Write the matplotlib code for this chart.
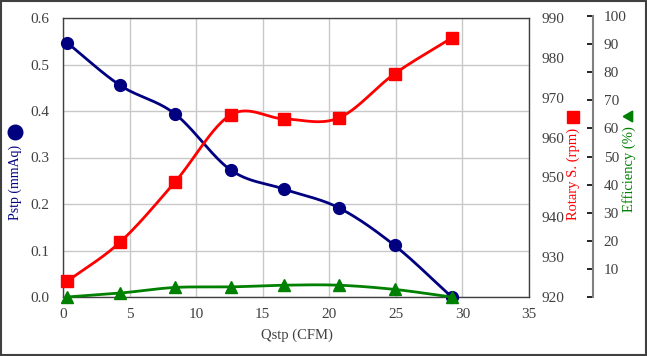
import numpy as np
import matplotlib
matplotlib.use("Agg")
import matplotlib.pyplot as plt
from matplotlib.lines import Line2D
from matplotlib.patches import Rectangle

plt.rcParams['font.family'] = ['Liberation Serif', 'DejaVu Sans']

# Data
qstp = [0.3, 4.3, 8.4, 12.6, 16.6, 20.7, 24.9, 29.2]
pstp = [0.547, 0.455, 0.394, 0.273, 0.232, 0.192, 0.111, 0.0]
rotary = [923.9, 933.8, 948.8, 965.7, 964.7, 964.9, 976.0, 985.0]
efficiency = [0.0, 1.4, 3.4, 3.6, 4.2, 4.2, 2.7, 0.0]

x_ticks = [0, 5, 10, 15, 20, 25, 30, 35]
p_ticks = [0.0, 0.1, 0.2, 0.3, 0.4, 0.5, 0.6]
r_ticks = [920, 930, 940, 950, 960, 970, 980, 990]
e_ticks = [0, 10, 20, 30, 40, 50, 60, 70, 80, 90, 100]

NAVY = '#000080'
RED = '#FF0000'
GREEN = '#008000'
TXT = '#404040'


def smooth(x, y, n=30):
    x = np.asarray(x, float)
    y = np.asarray(y, float)
    P = np.column_stack([x, y])
    P = np.vstack([P[0] - (P[1] - P[0]), P, P[-1] + (P[-1] - P[-2])])
    out = []
    for i in range(1, len(P) - 2):
        p0, p1, p2, p3 = P[i - 1], P[i], P[i + 1], P[i + 2]
        t = np.linspace(0, 1, n)[:, None]
        pts = 0.5 * ((2 * p1) + (-p0 + p2) * t + (2 * p0 - 5 * p1 + 4 * p2 - p3) * t ** 2
                     + (-p0 + 3 * p1 - 3 * p2 + p3) * t ** 3)
        out.append(pts)
    out = np.vstack(out)
    return out[:, 0], out[:, 1]


W, H = 647, 356
fig = plt.figure(figsize=(W / 100, H / 100), dpi=100)

L, R, T, B = 63, 529, 18, 297
ax = fig.add_axes([L / W, 1 - B / H, (R - L) / W, (B - T) / H])
ax.set_xlim(0, 35)
ax.set_ylim(0, 0.6)
ax.set_xticks(x_ticks)
ax.set_yticks(p_ticks)
ax.set_yticklabels([f'{v:.1f}' for v in p_ticks])
ax.grid(True, color='#C8C8C8', linewidth=1.0)
ax.set_axisbelow(True)
ax.tick_params(axis='y', length=0, labelsize=11, colors=TXT, pad=10)
ax.tick_params(axis='x', length=0, labelsize=11, colors=TXT, pad=8)
for s in ax.spines.values():
    s.set_color('#404040')
    s.set_linewidth(1.0)

ax2 = ax.twinx()
ax2.set_ylim(920, 990)
ax2.set_yticks(r_ticks)
ax2.tick_params(length=0, labelsize=11, colors=TXT, pad=9)
for s in ax2.spines.values():
    s.set_visible(False)

# Efficiency axis
eT, eB, eX = 16, 297, 592.5
ax3 = fig.add_axes([L / W, 1 - eB / H, (eX - L) / W, (eB - eT) / H])
ax3.patch.set_visible(False)
ax3.set_xlim(0, 35 * (eX - L) / (R - L))
ax3.set_ylim(0, 100)
for k in ['left', 'top', 'bottom']:
    ax3.spines[k].set_visible(False)
ax3.spines['right'].set_color('#808080')
ax3.spines['right'].set_linewidth(1.5)
ax3.set_xticks([])
ax3.yaxis.tick_right()
ax3.set_yticks(e_ticks)
ax3.set_yticklabels([''] + [str(v) for v in e_ticks[1:]])
ax3.tick_params(axis='y', direction='in', length=4, width=1.2, color='black',
                labelsize=11, labelcolor=TXT, pad=8)

# Series
sx, sy = smooth(qstp, pstp)
ax.plot(sx, sy, color=NAVY, lw=2, clip_on=False, zorder=3)
ax.plot(qstp, pstp, 'o', color=NAVY, ms=8.5, clip_on=False, zorder=4)

sx, sy = smooth(qstp, rotary)
ax2.plot(sx, sy, color=RED, lw=2, clip_on=False, zorder=3)
ax2.plot(qstp, rotary, 's', color=RED, ms=8.5, clip_on=False, zorder=4)

sx, sy = smooth(qstp, efficiency)
ax3.plot(sx, sy, color=GREEN, lw=2, clip_on=False, zorder=3)
ax3.plot(qstp, efficiency, '^', color=GREEN, ms=8, clip_on=False, zorder=4)

# Axis labels
fig.text(297 / W, 1 - 335 / H, 'Qstp (CFM)', ha='center', va='center',
         fontsize=10.5, color=TXT)
fig.text(15 / W, 1 - 182 / H, 'Pstp (mmAq)', ha='center', va='center',
         rotation=90, fontsize=10, color=NAVY)
fig.add_artist(Line2D([15 / W], [1 - 132 / H], marker='o', ms=10.5, color=NAVY,
                      transform=fig.transFigure))
fig.text(573 / W, 1 - 174 / H, 'Rotary S. (rpm)', ha='center', va='center',
         rotation=90, fontsize=10.5, color=RED)
fig.add_artist(Line2D([573 / W], [1 - 117 / H], marker='s', ms=9, color=RED,
                      transform=fig.transFigure))
fig.text(629 / W, 1 - 169 / H, 'Efficiency (%)', ha='center', va='center',
         rotation=90, fontsize=10.5, color=GREEN)
fig.add_artist(Line2D([629 / W], [1 - 116 / H], marker=(3, 0, 90), ms=9, color=GREEN,
                      transform=fig.transFigure))

fig.add_artist(Rectangle((0.001, 0.002), 0.997, 0.995, transform=fig.transFigure,
                         fill=False, edgecolor='#404040', linewidth=1.5))

fig.savefig('out.png', dpi=100)
